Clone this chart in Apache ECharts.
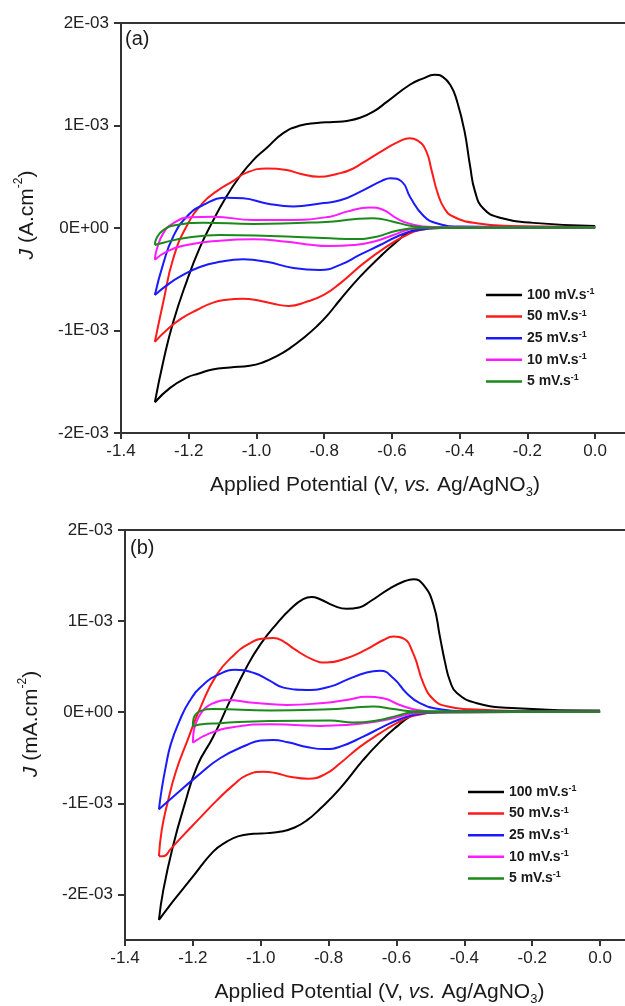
<!DOCTYPE html>
<html><head><meta charset="utf-8">
<script src="https://cdn.jsdelivr.net/npm/echarts@6/dist/echarts.min.js"></script>
<style>html,body{margin:0;padding:0;background:#fff}#c{width:625px;height:1006px}</style>
</head><body><div id="c"></div>
<script>
// ---- data (potential in V vs Ag/AgNO3, current density in units of 1E-03 A.cm-2) ----
const rates = ['100', '50', '25', '10', '5'];
const colors = ['#000000', '#ff1a1a', '#1a1aff', '#ff1aff', '#1a8a1a'];
const xTicks = [-1.4, -1.2, -1.0, -0.8, -0.6, -0.4, -0.2, 0.0];
const yTicks = [-2, -1, 0, 1, 2];

// Panel (a): each loop = cathodic sweep 0 -> -1.3 V then anodic sweep back to 0 V
const a100 = [[0.0,0.015],[-0.2,0.01],[-0.4,0.005],[-0.5,0.0],[-0.546,-0.036],[-0.586,-0.134],[-0.635,-0.28],[-0.694,-0.475],[-0.753,-0.70],[-0.79,-0.85],[-0.822,-0.96],[-0.86,-1.07],[-0.9,-1.17],[-0.94,-1.25],[-0.98,-1.31],[-1.02,-1.345],[-1.078,-1.36],[-1.13,-1.38],[-1.17,-1.42],[-1.206,-1.46],[-1.255,-1.56],[-1.30,-1.70],
  [-1.275,-1.30],[-1.246,-0.92],[-1.206,-0.52],[-1.167,-0.19],[-1.13,0.06],[-1.09,0.30],[-1.05,0.50],[-1.01,0.66],[-0.97,0.78],[-0.921,0.925],[-0.871,1.0],[-0.822,1.025],[-0.773,1.035],[-0.733,1.045],[-0.694,1.075],[-0.655,1.135],[-0.615,1.23],[-0.546,1.40],[-0.507,1.46],[-0.475,1.495],[-0.448,1.47],[-0.425,1.38],[-0.409,1.25],[-0.386,0.95],[-0.369,0.60],[-0.355,0.36],[-0.33,0.19],[-0.281,0.10],[-0.182,0.05],[0.0,0.02]];
const a50 = [[0.0,0.01],[-0.3,0.005],[-0.45,0.0],[-0.517,-0.02],[-0.566,-0.085],[-0.615,-0.18],[-0.684,-0.345],[-0.753,-0.54],[-0.80,-0.65],[-0.852,-0.72],[-0.905,-0.76],[-0.95,-0.74],[-0.99,-0.71],[-1.04,-0.69],[-1.088,-0.70],[-1.13,-0.73],[-1.176,-0.80],[-1.22,-0.88],[-1.26,-0.98],[-1.30,-1.11],
  [-1.275,-0.72],[-1.246,-0.30],[-1.206,0.02],[-1.157,0.25],[-1.117,0.36],[-1.068,0.46],[-1.029,0.54],[-0.97,0.58],[-0.911,0.566],[-0.871,0.53],[-0.815,0.50],[-0.76,0.53],[-0.724,0.566],[-0.684,0.64],[-0.625,0.76],[-0.575,0.85],[-0.548,0.875],[-0.525,0.855],[-0.50,0.76],[-0.482,0.55],[-0.465,0.34],[-0.445,0.19],[-0.418,0.11],[-0.35,0.046],[-0.25,0.02],[0.0,0.01]];
const a25 = [[0.0,0.005],[-0.45,0.0],[-0.537,-0.03],[-0.586,-0.085],[-0.635,-0.166],[-0.694,-0.26],[-0.753,-0.36],[-0.812,-0.41],[-0.891,-0.39],[-0.97,-0.33],[-1.039,-0.306],[-1.108,-0.33],[-1.167,-0.38],[-1.226,-0.475],[-1.265,-0.56],[-1.30,-0.654],
  [-1.275,-0.345],[-1.246,-0.085],[-1.206,0.11],[-1.157,0.225],[-1.088,0.296],[-1.039,0.29],[-0.97,0.24],[-0.891,0.21],[-0.812,0.24],[-0.753,0.27],[-0.684,0.37],[-0.63,0.46],[-0.604,0.485],[-0.57,0.45],[-0.546,0.30],[-0.507,0.12],[-0.468,0.046],[-0.4,0.015],[0.0,0.005]];
const a10 = [[0.0,0.005],[-0.5,0.0],[-0.546,-0.013],[-0.596,-0.068],[-0.655,-0.134],[-0.714,-0.166],[-0.783,-0.176],[-0.85,-0.16],[-0.911,-0.134],[-1.009,-0.11],[-1.108,-0.124],[-1.206,-0.166],[-1.265,-0.23],[-1.30,-0.31],
  [-1.295,-0.215],[-1.275,-0.05],[-1.246,0.046],[-1.196,0.104],[-1.127,0.11],[-1.009,0.078],[-0.911,0.078],[-0.783,0.11],[-0.733,0.16],[-0.665,0.20],[-0.625,0.176],[-0.586,0.095],[-0.546,0.04],[-0.48,0.01],[0.0,0.005]];
const a5 = [[0.0,0.005],[-0.52,0.0],[-0.586,-0.026],[-0.645,-0.085],[-0.714,-0.107],[-0.783,-0.10],[-0.96,-0.078],[-1.108,-0.068],[-1.206,-0.095],[-1.275,-0.143],[-1.30,-0.166],
  [-1.295,-0.10],[-1.275,-0.02],[-1.236,0.03],[-1.157,0.052],[-1.009,0.04],[-0.783,0.062],[-0.714,0.085],[-0.655,0.095],[-0.596,0.062],[-0.546,0.022],[-0.48,0.005],[0.0,0.005]];

// Panel (b)
const b100 = [[0.0,0.015],[-0.4,0.005],[-0.52,0.0],[-0.56,-0.048],[-0.599,-0.158],[-0.648,-0.323],[-0.698,-0.524],[-0.766,-0.835],[-0.825,-1.06],[-0.865,-1.19],[-0.90,-1.265],[-0.94,-1.31],[-0.98,-1.327],[-1.022,-1.335],[-1.065,-1.36],[-1.10,-1.42],[-1.14,-1.53],[-1.199,-1.80],[-1.238,-1.98],[-1.27,-2.13],[-1.30,-2.28],
  [-1.287,-1.95],[-1.26,-1.49],[-1.225,-1.02],[-1.186,-0.58],[-1.14,-0.27],[-1.09,0.13],[-1.041,0.50],[-1.0,0.75],[-0.953,0.97],[-0.91,1.14],[-0.875,1.24],[-0.85,1.265],[-0.825,1.24],[-0.785,1.17],[-0.747,1.135],[-0.71,1.15],[-0.678,1.215],[-0.619,1.36],[-0.575,1.44],[-0.55,1.46],[-0.521,1.40],[-0.491,1.18],[-0.472,0.83],[-0.457,0.55],[-0.442,0.34],[-0.422,0.21],[-0.363,0.099],[-0.246,0.044],[0.0,0.015]];
const b50 = [[0.0,0.005],[-0.45,0.0],[-0.55,-0.04],[-0.599,-0.12],[-0.648,-0.23],[-0.707,-0.378],[-0.766,-0.56],[-0.81,-0.68],[-0.86,-0.73],[-0.91,-0.71],[-0.96,-0.665],[-0.992,-0.653],[-1.041,-0.69],[-1.081,-0.80],[-1.13,-0.97],[-1.179,-1.16],[-1.238,-1.39],[-1.265,-1.50],[-1.287,-1.58],[-1.30,-1.58],
  [-1.292,-1.30],[-1.275,-1.0],[-1.25,-0.65],[-1.215,-0.30],[-1.179,0.04],[-1.13,0.41],[-1.081,0.62],[-1.035,0.75],[-0.99,0.81],[-0.963,0.815],[-0.93,0.77],[-0.904,0.70],[-0.845,0.575],[-0.806,0.545],[-0.747,0.593],[-0.688,0.69],[-0.64,0.79],[-0.609,0.83],[-0.58,0.81],[-0.55,0.64],[-0.521,0.32],[-0.491,0.14],[-0.452,0.065],[-0.383,0.033],[-0.2,0.01],[0.0,0.005]];
const b25 = [[0.0,0.005],[-0.47,0.0],[-0.54,-0.022],[-0.59,-0.077],[-0.639,-0.158],[-0.698,-0.268],[-0.766,-0.378],[-0.81,-0.405],[-0.86,-0.385],[-0.92,-0.33],[-0.963,-0.304],[-1.0,-0.31],[-1.041,-0.36],[-1.12,-0.505],[-1.189,-0.707],[-1.258,-0.927],[-1.30,-1.066],
  [-1.292,-0.85],[-1.28,-0.6],[-1.265,-0.35],[-1.24,-0.1],[-1.21,0.12],[-1.17,0.30],[-1.12,0.42],[-1.076,0.465],[-1.02,0.43],[-0.975,0.35],[-0.933,0.27],[-0.864,0.245],[-0.796,0.281],[-0.747,0.355],[-0.688,0.435],[-0.648,0.454],[-0.609,0.374],[-0.57,0.209],[-0.531,0.099],[-0.472,0.033],[-0.4,0.01],[0.0,0.005]];
const b10 = [[0.0,0.005],[-0.5,0.0],[-0.56,-0.019],[-0.609,-0.066],[-0.678,-0.114],[-0.747,-0.14],[-0.825,-0.15],[-0.9,-0.14],[-0.973,-0.132],[-1.071,-0.158],[-1.149,-0.23],[-1.20,-0.334],
  [-1.197,-0.195],[-1.185,-0.07],[-1.165,0.04],[-1.14,0.099],[-1.10,0.135],[-1.022,0.105],[-0.923,0.08],[-0.825,0.099],[-0.747,0.135],[-0.688,0.17],[-0.639,0.154],[-0.59,0.08],[-0.54,0.025],[-0.48,0.005],[0.0,0.005]];
const b5 = [[0.0,0.005],[-0.55,0.0],[-0.599,-0.04],[-0.658,-0.092],[-0.727,-0.114],[-0.796,-0.092],[-0.973,-0.096],[-1.12,-0.12],[-1.18,-0.135],[-1.20,-0.158],
  [-1.199,-0.09],[-1.193,-0.03],[-1.179,0.012],[-1.14,0.036],[-0.973,0.018],[-0.796,0.033],[-0.727,0.05],[-0.668,0.062],[-0.609,0.036],[-0.55,0.01],[0.0,0.005]];

const panelA = [a100, a50, a25, a10, a5];
const panelB = [b100, b50, b25, b10, b5];

// ---- build chart ----
const FONT = "'Liberation Sans', Arial, Helvetica, sans-serif";
const names = rates.map(r => r + ' mV.s-1');
const chart = echarts.init(document.getElementById('c'), null, { renderer: 'canvas' });

function yFmt(v) { const m = Math.round(v * 1000); return m === 0 ? '0E+00' : m + 'E-03'; }

function splitLoop(loop) {
  let idx = 0;
  loop.forEach((p, i) => { if (p[0] < loop[idx][0]) idx = i; });
  const sc = p => [p[0], p[1] * 1e-3];
  return [loop.slice(0, idx + 1).map(sc), loop.slice(idx).map(sc)];
}

const series = [];
[panelA, panelB].forEach((panel, g) => {
  panel.forEach((loop, i) => {
    splitLoop(loop).forEach(part => {
      series.push({
        type: 'line', name: names[i], xAxisIndex: g, yAxisIndex: g, data: part,
        symbol: 'none', showSymbol: false, smooth: 0.5, z: 2 + i,
        lineStyle: { color: colors[i], width: 2 }, itemStyle: { color: colors[i] },
        emphasis: { disabled: true }
      });
    });
  });
});

const axisColor = '#333';
function xAxis(g) {
  return {
    gridIndex: g, type: 'value', min: -1.4, max: 0.1, interval: 0.2,
    name: 'Applied Potential (V, {it|vs.} Ag/AgNO{sub|3})',
    nameLocation: 'middle', nameGap: 38, nameMoveOverlap: false,
    nameTextStyle: {
      fontSize: 21, color: '#1a1a1a', fontFamily: FONT, lineHeight: 28,
      rich: {
        it: { fontStyle: 'italic', fontSize: 21, lineHeight: 28, fontFamily: FONT, color: '#1a1a1a' },
        sub: { fontSize: 13, lineHeight: 13, verticalAlign: 'bottom', fontFamily: FONT, color: '#1a1a1a' }
      }
    },
    axisLine: { show: true, onZero: false, lineStyle: { color: axisColor, width: 2 } },
    axisTick: { show: true, length: 6, customValues: xTicks, lineStyle: { color: axisColor, width: 2 } },
    axisLabel: { customValues: xTicks, formatter: v => v.toFixed(1), fontSize: 17, color: '#222', margin: 10, fontFamily: FONT },
    splitLine: { show: false }
  };
}
function yAxis(g, min, interval, unit, shift) {
  const tv = yTicks.map(t => t * 1e-3);
  return {
    gridIndex: g, type: 'value', min: min, max: 0.002, interval: interval,
    name: '{it|J} (' + unit + '.cm{sup|-2})',
    nameLocation: 'middle', nameGap: 80, nameMoveOverlap: false,
    nameTextStyle: {
      fontSize: 21, color: '#1a1a1a', fontFamily: FONT, lineHeight: 28, padding: [0, 0, 0, shift],
      rich: {
        it: { fontStyle: 'italic', fontSize: 21, lineHeight: 28, fontFamily: FONT, color: '#1a1a1a' },
        sup: { fontSize: 12, lineHeight: 12, verticalAlign: 'top', fontFamily: FONT, color: '#1a1a1a' }
      }
    },
    axisLine: { show: true, onZero: false, lineStyle: { color: axisColor, width: 2 } },
    axisTick: { show: true, length: 7, customValues: tv, lineStyle: { color: axisColor, width: 2 } },
    axisLabel: { customValues: tv, formatter: yFmt, fontSize: 17, color: '#222', margin: 12, fontFamily: FONT },
    splitLine: { show: false }
  };
}
function legend(left, top) {
  return {
    data: names, orient: 'vertical', left: left, top: top, icon: 'rect',
    itemWidth: 36, itemHeight: 2.5, itemGap: 5.6, selectedMode: false, padding: 0,
    formatter: n => '{b|' + n.split(' ')[0] + ' mV.s}{sup|-1}',
    textStyle: {
      fontSize: 14, fontWeight: 'bold', color: '#1a1a1a', fontFamily: FONT, lineHeight: 16,
      rich: {
        b: { fontSize: 14, fontWeight: 'bold', lineHeight: 16, fontFamily: FONT, color: '#1a1a1a' },
        sup: { fontSize: 9, fontWeight: 'bold', lineHeight: 9, verticalAlign: 'top', fontFamily: FONT, color: '#1a1a1a' }
      }
    }
  };
}

chart.setOption({
  animation: false,
  backgroundColor: '#ffffff',
  textStyle: { fontFamily: FONT },
  grid: [
    { left: 121, top: 23, width: 508, height: 410, show: true, borderColor: axisColor, borderWidth: 2, backgroundColor: 'transparent', containLabel: false, outerBoundsMode: 'none' },
    { left: 125, top: 530, width: 509, height: 410, show: true, borderColor: axisColor, borderWidth: 2, backgroundColor: 'transparent', containLabel: false, outerBoundsMode: 'none' }
  ],
  xAxis: [xAxis(0), xAxis(1)],
  yAxis: [yAxis(0, -0.002, 0.001, 'A', 26), yAxis(1, -0.0025, 0.0005, 'mA', 22)],
  legend: [legend(486, 287), legend(468, 784)],
  graphic: [
    { type: 'text', left: 125, top: 29, style: { text: '(a)', font: '20px ' + FONT, fill: '#1a1a1a' } },
    { type: 'text', left: 130, top: 538, style: { text: '(b)', font: '20px ' + FONT, fill: '#1a1a1a' } }
  ],
  series: series
});
</script>
</body></html>
